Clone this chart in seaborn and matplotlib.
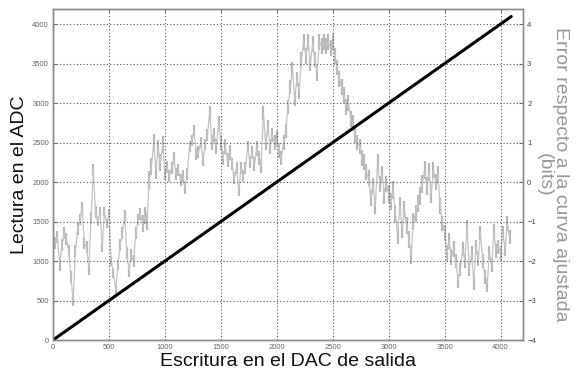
import numpy as np
import pandas as pd
import matplotlib
matplotlib.use("Agg")
import matplotlib.pyplot as plt
import seaborn as sns

# DAC codes written and the ADC readings obtained (ideal straight response)
dac_codes = [0, 4095]
adc_readings = [0, 4095]

# Error respect to the fitted curve, in bits, sampled every 20 DAC codes
error_step = 20
error_bits = [
    -1.30, -1.55, -1.40, -2.10, -1.60, -1.30, -1.45, -1.75, -2.40, -3.00,
    -1.75, -1.20, -0.95, -0.65, -1.55, -1.65, -2.20, -0.90, 0.30, -0.75,
    -1.00, -0.75, -1.65, -0.75, -1.05, -0.80, -2.00, -2.30, -2.75, -2.10,
    -1.60, -1.30, -0.85, -1.80, -2.25, -1.85, -2.00, -1.30, -0.95, -0.80,
    -1.05, -0.85, -1.00, 0.05, 0.40, 1.00, 0.30, 0.85, 0.50, 0.95,
    0.20, 0.38, 0.15, 0.35, 0.60, 0.20, 0.30, 0.05, 0.15, -0.15,
    0.20, 0.90, 1.05, 1.30, 0.70, 0.75, 1.00, 0.55, 0.95, 1.20,
    1.75, 1.00, 1.20, 0.90, 1.50, 1.00, 0.60, 0.90, 0.55, 0.75,
    0.45, 0.10, 0.35, -0.20, 0.35, 0.15, 0.35, 0.90, 0.50, 0.75,
    0.45, 0.85, 0.60, 0.40, 1.75, 1.00, 1.40, 0.90, 1.20, 1.00,
    1.10, 0.80, 0.60, 1.00, 1.30, 1.90, 2.40, 2.85, 2.10, 2.60,
    2.30, 3.10, 3.55, 3.20, 3.55, 3.00, 3.50, 3.10, 2.75, 3.55,
    3.45, 3.55, 3.45, 3.55, 3.40, 3.55, 3.20, 2.90, 2.60, 2.40,
    2.20, 1.90, 2.00, 1.60, 1.50, 1.20, 1.00, 0.90, 0.60, 0.50,
    0.25, 0.10, -0.40, -0.10, -0.60, 0.50, -0.05, 0.20, -0.35, -0.05,
    -0.30, -0.50, -0.20, -0.80, -1.35, -0.60, -1.20, -0.70, -1.10, -1.45,
    -1.85, -1.00, -0.80, -0.55, -0.35, -0.05, 0.30, -0.10, 0.25, -0.30,
    0.30, 0.00, 0.20, -0.60, -1.05, -1.30, -1.80, -1.50, -1.90, -1.70,
    -2.00, -2.50, -2.20, -1.70, -2.00, -1.15, -2.20, -1.80, -2.55, -1.65,
    -1.95, -1.30, -2.00, -2.40, -2.60, -1.80, -2.10, -1.25, -1.75, -1.65,
    -1.80, -1.30, -1.70, -1.05, -1.40,
]

# Half-width of the code-to-code jitter (bits), one value per 200 DAC codes
jitter_per_block = [
    0.15, 0.15, 0.12, 0.15, 0.22, 0.15, 0.15, 0.18, 0.15, 0.18, 0.18,
    0.20, 0.20, 0.20, 0.20, 0.22, 0.22, 0.20, 0.18, 0.18, 0.18,
]

x_ticks = [0, 500, 1000, 1500, 2000, 2500, 3000, 3500, 4000]
y_ticks = [0, 500, 1000, 1500, 2000, 2500, 3000, 3500, 4000]
err_ticks = [-4, -3, -2, -1, 0, 1, 2, 3, 4]

ideal = pd.DataFrame({"dac": dac_codes, "adc": adc_readings})
err = pd.DataFrame({"dac": np.arange(len(error_bits)) * error_step,
                    "err": error_bits})
err["jit"] = np.repeat(jitter_per_block, 10)[:len(err)]

sns.set_style("white")
plt.rcParams["font.family"] = ["Liberation Sans", "DejaVu Sans"]

fig = plt.figure(figsize=(5.8, 3.76), dpi=100)
ax = fig.add_axes([0.0914, 0.0957, 0.8103, 0.8803])
ax2 = ax.twinx()

# error trace behind the straight response
ax.set_zorder(ax2.get_zorder() + 1)
ax.patch.set_visible(False)

ax2.vlines(err["dac"], err["err"] - err["jit"], err["err"] + err["jit"],
           color="#b8b8b8", linewidth=1.6)
sns.lineplot(data=err, x="dac", y="err", ax=ax2, color="#c4c4c4",
             linewidth=0.9, estimator=None, sort=False)
sns.lineplot(data=ideal, x="dac", y="adc", ax=ax, color="black",
             linewidth=2.2, estimator=None)

ax.set_xlim(0, 4200)
ax.set_ylim(0, 4190)
ax2.set_ylim(-4, 4.38)

ax.set_xticks(x_ticks)
ax.set_yticks(y_ticks)
ax2.set_yticks(err_ticks)

ax.grid(True, linestyle=(0, (1, 2)), color="#555555", linewidth=0.8)
ax2.grid(False)

for a in (ax, ax2):
    for s in a.spines.values():
        s.set_color("#8a8a8a")
        s.set_linewidth(1.0)

ax.tick_params(axis="both", direction="in", length=3, width=0.6,
               color="#555555", labelsize=5.5, labelcolor="#666666", pad=3)
ax.tick_params(axis="x", top=True)
ax2.tick_params(axis="y", direction="in", length=3, width=0.6,
                color="#555555", labelsize=5.5, labelcolor="#444444", pad=3)

ax.set_xlabel("Escritura en el DAC de salida", fontsize=14, color="#111111",
              labelpad=1)
ax.set_ylabel("Lectura en el ADC", fontsize=14, color="#111111", labelpad=3)
ax2.set_ylabel("Error respecto a la curva ajustada\n(bits)", fontsize=14,
               color="#999999", rotation=270, labelpad=24, linespacing=0.95)

fig.savefig("out.png", dpi=100)
